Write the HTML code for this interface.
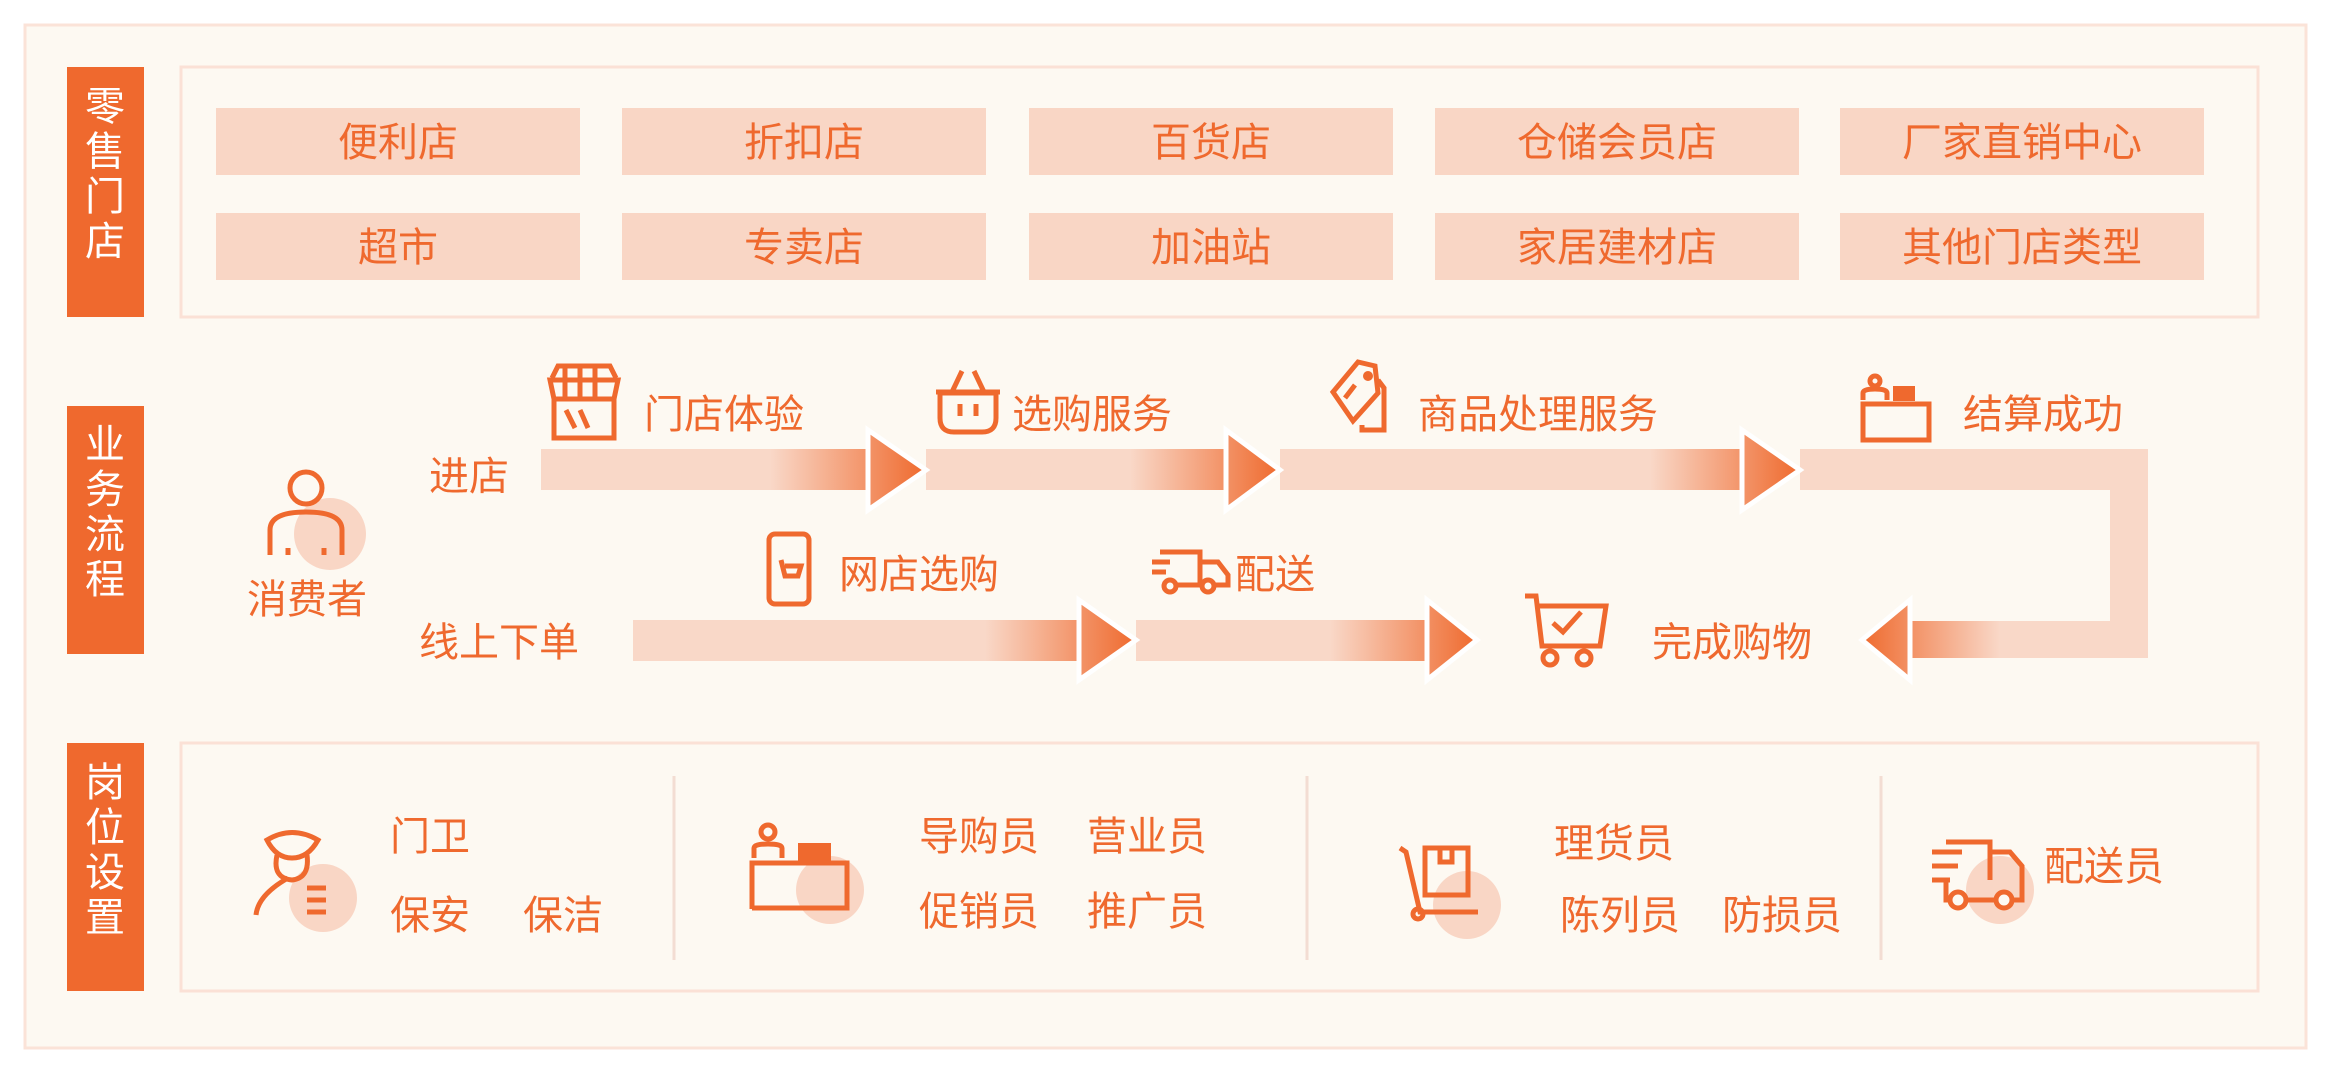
<!DOCTYPE html>
<html><head><meta charset="utf-8"><style>
html,body{margin:0;padding:0;background:#fff}
svg{display:block}
text{font-family:"Liberation Sans","Noto Sans CJK SC",sans-serif;fill:#ef692e}
</style></head><body>
<svg width="2348" height="1082" viewBox="0 0 2348 1082" xmlns="http://www.w3.org/2000/svg">
<defs>
<linearGradient id="gA" gradientUnits="userSpaceOnUse" x1="770" y1="0" x2="926" y2="0"><stop offset="0" stop-color="#f9d8c8"/><stop offset="1" stop-color="#ef6a2e"/></linearGradient>
<linearGradient id="gB" gradientUnits="userSpaceOnUse" x1="1130" y1="0" x2="1280" y2="0"><stop offset="0" stop-color="#f9d8c8"/><stop offset="1" stop-color="#ef6a2e"/></linearGradient>
<linearGradient id="gC" gradientUnits="userSpaceOnUse" x1="1650" y1="0" x2="1800" y2="0"><stop offset="0" stop-color="#f9d8c8"/><stop offset="1" stop-color="#ef6a2e"/></linearGradient>
<linearGradient id="gD" gradientUnits="userSpaceOnUse" x1="985" y1="0" x2="1136" y2="0"><stop offset="0" stop-color="#f9d8c8"/><stop offset="1" stop-color="#ef6a2e"/></linearGradient>
<linearGradient id="gE" gradientUnits="userSpaceOnUse" x1="1330" y1="0" x2="1477" y2="0"><stop offset="0" stop-color="#f9d8c8"/><stop offset="1" stop-color="#ef6a2e"/></linearGradient>
<linearGradient id="gF" gradientUnits="userSpaceOnUse" x1="2000" y1="0" x2="1862" y2="0"><stop offset="0" stop-color="#f9d8c8"/><stop offset="1" stop-color="#ef6a2e"/></linearGradient>
</defs>
<rect width="2348" height="1082" fill="#ffffff"/>
<rect x="25" y="25" width="2281" height="1023" fill="#fdf9f2" stroke="#fbe3d8" stroke-width="3"/>

<!-- left labels -->
<g fill="#ef692e">
<rect x="67" y="67" width="77" height="250"/>
<rect x="67" y="406" width="77" height="248"/>
<rect x="67" y="743" width="77" height="248"/>
</g>
<g font-size="40" text-anchor="middle" style="fill:#fff">
<text x="105" y="120" style="fill:#fff">零</text><text x="105" y="165" style="fill:#fff">售</text><text x="105" y="210" style="fill:#fff">门</text><text x="105" y="255" style="fill:#fff">店</text>
<text x="105" y="458" style="fill:#fff">业</text><text x="105" y="503" style="fill:#fff">务</text><text x="105" y="548" style="fill:#fff">流</text><text x="105" y="593" style="fill:#fff">程</text>
<text x="105" y="796" style="fill:#fff">岗</text><text x="105" y="841" style="fill:#fff">位</text><text x="105" y="886" style="fill:#fff">设</text><text x="105" y="931" style="fill:#fff">置</text>
</g>

<!-- row1 -->
<rect x="181" y="67" width="2077" height="250" fill="#fdf9f2" stroke="#fbe1d6" stroke-width="3"/>
<g fill="#f9d6c5">
<rect x="216" y="108" width="364" height="67"/><rect x="622" y="108" width="364" height="67"/><rect x="1029" y="108" width="364" height="67"/><rect x="1435" y="108" width="364" height="67"/><rect x="1840" y="108" width="364" height="67"/>
<rect x="216" y="213" width="364" height="67"/><rect x="622" y="213" width="364" height="67"/><rect x="1029" y="213" width="364" height="67"/><rect x="1435" y="213" width="364" height="67"/><rect x="1840" y="213" width="364" height="67"/>
</g>
<g font-size="40" text-anchor="middle">
<text x="398" y="156">便利店</text><text x="804" y="156">折扣店</text><text x="1211" y="156">百货店</text><text x="1617" y="156">仓储会员店</text><text x="2022" y="156">厂家直销中心</text>
<text x="398" y="261">超市</text><text x="804" y="261">专卖店</text><text x="1211" y="261">加油站</text><text x="1617" y="261">家居建材店</text><text x="2022" y="261">其他门店类型</text>
</g>

<!-- flow bands -->
<rect x="541" y="449" width="327" height="41" fill="url(#gA)"/>
<rect x="926" y="449" width="300" height="41" fill="url(#gB)"/>
<rect x="1280" y="449" width="462" height="41" fill="url(#gC)"/>
<path d="M1800 449 H2148 V658 H1910 V621 H2110 V490 H1800 Z" fill="#f9d8c8"/>
<rect x="1910" y="621" width="238" height="37" fill="url(#gF)"/>
<rect x="633" y="620" width="446" height="41" fill="url(#gD)"/>
<rect x="1136" y="620" width="291" height="41" fill="url(#gE)"/>
<g stroke="#fff" stroke-width="5" stroke-linejoin="miter">
<polygon points="868,430 926,470 868,510" fill="url(#gA)"/>
<polygon points="1226,430 1280,470 1226,510" fill="url(#gB)"/>
<polygon points="1742,430 1800,470 1742,510" fill="url(#gC)"/>
<polygon points="1079,600 1136,640 1079,680" fill="url(#gD)"/>
<polygon points="1427,600 1477,640 1427,680" fill="url(#gE)"/>
<polygon points="1910,600 1862,640 1910,680" fill="url(#gF)"/>
</g>

<!-- flow text -->
<g font-size="40">
<text x="429" y="490">进店</text>
<text x="644" y="428">门店体验</text>
<text x="1012" y="428">选购服务</text>
<text x="1418" y="428">商品处理服务</text>
<text x="1963" y="428">结算成功</text>
<text x="247" y="613">消费者</text>
<text x="419" y="656">线上下单</text>
<text x="839" y="588">网店选购</text>
<text x="1235" y="588">配送</text>
<text x="1652" y="656">完成购物</text>
</g>

<!-- flow icons -->
<g fill="none" stroke="#ef692e" stroke-width="5">
<!-- person -->
<ellipse cx="330" cy="534" rx="36" ry="36" fill="#f9d6c5" stroke="none"/>
<circle cx="306" cy="488" r="16"/>
<path d="M270 555 V530 Q270 512 306 512 Q342 512 342 530 V555"/>
<path d="M288 548 V555 M324 548 V555"/>
<!-- store -->
<path d="M554 399 V438 H614 V399 M550 380 H618 L614 399 H554 Z M552 378 L558 366 H610 L616 378"/>
<path d="M565 366 V398 M580 366 V398 M595 366 V398 M566 410 L575 428 M580 410 L588 428"/>
<!-- basket -->
<path d="M940 393 H996 V418 Q996 432 982 432 H954 Q940 432 940 418 Z M936 392 H1000 M952 392 L962 371 M984 392 L974 371 M960 404 V416 M976 404 V416"/>
<!-- tag -->
<path d="M1333 392 L1358 362 L1375 366 L1378 393 L1353 421 Z M1378 380 L1384 388 V430 H1362 V425 M1345 398 L1355 385"/>
<circle cx="1368" cy="376" r="2.5" fill="#ef692e"/>
<!-- cashier top -->
<circle cx="1875" cy="381" r="5"/>
<path d="M1863 400 V393 Q1863 389 1875 389 Q1887 389 1887 393 V400 M1863 440 V404 H1929 V440 Z"/>
<rect x="1893" y="386" width="22" height="15" fill="#ef692e" stroke="none"/>
<!-- phone -->
<rect x="769" y="534" width="40" height="70" rx="6"/>
<path d="M781 560 L785 576 H798 L801 566 H785"/>
<!-- truck -->
<path d="M1160 552 H1200 V585 M1200 562 H1218 L1228 575 V585 H1164 M1152 562 H1170 M1152 572 H1166"/>
<circle cx="1170" cy="586" r="6" fill="#fdf9f2"/><circle cx="1208" cy="586" r="6" fill="#fdf9f2"/>
<!-- cart -->
<path d="M1525 596 H1536 L1542 646 H1600 L1606 606 H1538 M1553 623 L1563 632 L1581 612"/>
<circle cx="1550" cy="658" r="7"/><circle cx="1584" cy="658" r="7"/>
</g>

<!-- row3 -->
<rect x="181" y="743" width="2077" height="248" fill="#fdf9f2" stroke="#fbe1d6" stroke-width="3"/>
<g stroke="#f3ddd3" stroke-width="3">
<line x1="674" y1="776" x2="674" y2="960"/><line x1="1307" y1="776" x2="1307" y2="960"/><line x1="1881" y1="776" x2="1881" y2="960"/>
</g>
<g fill="#f9d6c5">
<ellipse cx="323" cy="898" rx="34" ry="34"/>
<ellipse cx="830" cy="890" rx="34" ry="34"/>
<ellipse cx="1467" cy="905" rx="34" ry="34"/>
<ellipse cx="2000" cy="890" rx="34" ry="34"/>
</g>
<g fill="none" stroke="#ef692e" stroke-width="5">
<!-- guard -->
<path d="M267 840 Q292 825 318 840 Q308 858 292 858 Q276 858 267 840 Z"/>
<path d="M277 855 Q272 878 292 880 Q310 878 307 855 M288 878 Q258 895 256 915"/>
<path d="M307 888 H326 M307 900 H326 M307 912 H326"/>
<!-- cashier -->
<circle cx="768" cy="832" r="7"/>
<path d="M754 858 V848 Q754 844 768 844 Q782 844 782 848 V858 M752 909 V863 H847 V908 H752"/>
<rect x="798" y="843" width="33" height="21" fill="#ef692e" stroke="none"/>
<!-- hand truck -->
<path d="M1400 848 L1406 852 L1420 912 H1478 M1425 848 H1468 V895 H1425 Z M1440 848 V862 H1452 V848"/>
<circle cx="1418" cy="914" r="5"/>
<!-- truck -->
<path d="M1946 842 H1990 V880 M1990 852 H2010 L2022 866 V900 H1946 V880 M1932 852 H1962 M1932 866 H1958 M1932 880 H1950"/>
<circle cx="1958" cy="900" r="8" fill="#fdf9f2"/><circle cx="2004" cy="900" r="8" fill="#fdf9f2"/>
</g>
<g font-size="40">
<text x="390" y="850">门卫</text>
<text x="390" y="929">保安</text><text x="523" y="929">保洁</text>
<text x="919" y="850">导购员</text><text x="1087" y="850">营业员</text>
<text x="919" y="925">促销员</text><text x="1087" y="925">推广员</text>
<text x="1554" y="857">理货员</text>
<text x="1560" y="929">陈列员</text><text x="1722" y="929">防损员</text>
<text x="2044" y="880">配送员</text>
</g>
</svg>
</body></html>
